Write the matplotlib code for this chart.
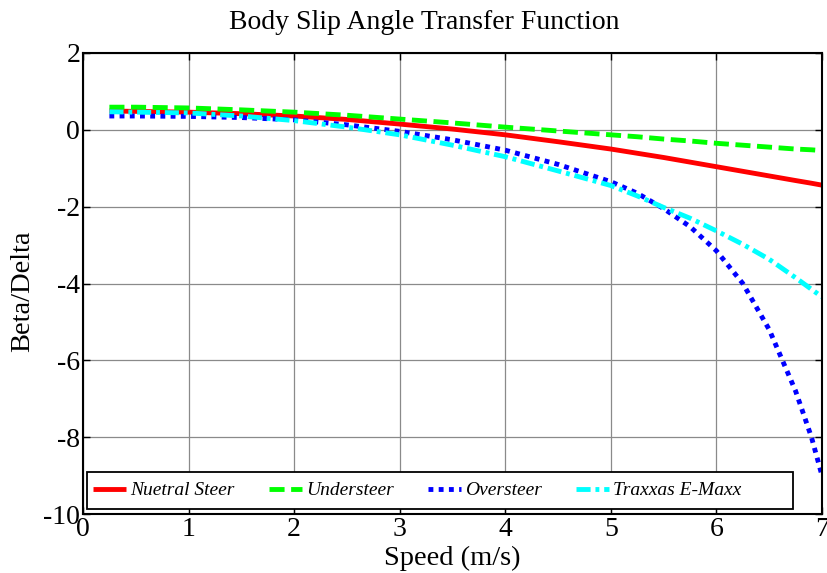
import matplotlib
matplotlib.use("Agg")
import matplotlib.pyplot as plt
from matplotlib.patches import Rectangle

speed = [0.25, 0.5, 1, 1.5, 2, 2.5, 3, 3.5, 4, 4.5, 5, 5.25, 5.5, 5.75,
         6, 6.25, 6.5, 6.75, 6.9, 7]
neutral = [0.49, 0.48, 0.46, 0.42, 0.36, 0.27, 0.15, 0.02, -0.13, -0.31,
           -0.50, -0.61, -0.72, -0.84, -0.96, -1.08, -1.20, -1.32, -1.39, -1.44]
under = [0.59, 0.59, 0.57, 0.52, 0.46, 0.38, 0.28, 0.18, 0.07, -0.03,
         -0.13, -0.18, -0.24, -0.29, -0.35, -0.40, -0.45, -0.50, -0.52, -0.54]
over = [0.36, 0.36, 0.35, 0.32, 0.26, 0.13, -0.04, -0.26, -0.53, -0.90,
        -1.35, -1.65, -2.05, -2.52, -3.15, -4.0, -5.2, -6.8, -8.0, -9.0]
traxxas = [0.47, 0.46, 0.44, 0.36, 0.24, 0.07, -0.13, -0.40, -0.70, -1.07,
           -1.45, -1.72, -2.02, -2.30, -2.63, -2.98, -3.37, -3.85, -4.15, -4.35]
labels = ["Nuetral Steer", "Understeer", "Oversteer", "Traxxas E-Maxx"]
xticks = [0, 1, 2, 3, 4, 5, 6, 7]
yticks = [-10, -8, -6, -4, -2, 0, 2]

serif = "Liberation Serif"
fig = plt.figure(figsize=(8.28, 5.73), dpi=100)
ax = fig.add_axes([83 / 828, 59 / 573, 739 / 828, 461 / 573])

lw = 3.5
ax.plot(speed, neutral, color="#ff0000", lw=lw, solid_capstyle="butt", label=labels[0])
ax.plot(speed, under, color="#00ff00", lw=lw, linestyle=(0, (3.1, 1.35)),
        dash_capstyle="butt", label=labels[1])
ax.plot(speed, over, color="#0000ff", lw=lw, linestyle=(0, (1.0, 1.1)),
        dash_capstyle="butt", label=labels[2])
ax.plot(speed, traxxas, color="#00ffff", lw=lw, linestyle=(0, (2.9, 1.0, 0.8, 1.0)),
        dash_capstyle="butt", label=labels[3])

ax.set_xlim(0, 7)
ax.set_ylim(-10, 2)
ax.set_xticks(xticks)
ax.set_yticks(yticks)
ax.set_xticklabels([str(v) for v in xticks], fontfamily=serif, fontsize=20)
ax.set_yticklabels([str(v) for v in yticks], fontfamily=serif, fontsize=20)
ax.tick_params(direction="in", length=5, width=1, top=True, right=True, pad=2)
ax.grid(True, color="#8a8a8a", lw=0.9)
ax.set_axisbelow(True)
for s in ax.spines.values():
    s.set_linewidth(1.5)

fig.text(424 / 828, 1 - 29 / 573, "Body Slip Angle Transfer Function",
         fontfamily=serif, fontsize=20, ha="center", va="baseline")
ax.set_xlabel("Speed (m/s)", fontfamily=serif, fontsize=20.5)
ax.xaxis.set_label_coords(0.5, (514 - 546) / 461)
ax.set_ylabel("Beta/Delta", fontfamily=serif, fontsize=20.5)
ax.yaxis.set_label_coords((35 - 83) / 739, (514 - 291.5) / 461)

# legend frame (fixed box as in reference)
ax.add_patch(Rectangle((4 / 739, 5 / 461), 706 / 739, 37 / 461, transform=ax.transAxes,
                       facecolor="white", edgecolor="black", lw=1.3, zorder=5))
leg = ax.legend(loc="center left", bbox_to_anchor=(4 / 739, 23.5 / 461), ncol=4,
                frameon=False, handlelength=1.7, handletextpad=0.22,
                columnspacing=1.75, borderaxespad=0, borderpad=0.3,
                prop={"family": serif, "style": "italic", "size": 14})
leg.set_zorder(6)

fig.savefig("out.png", dpi=100)
